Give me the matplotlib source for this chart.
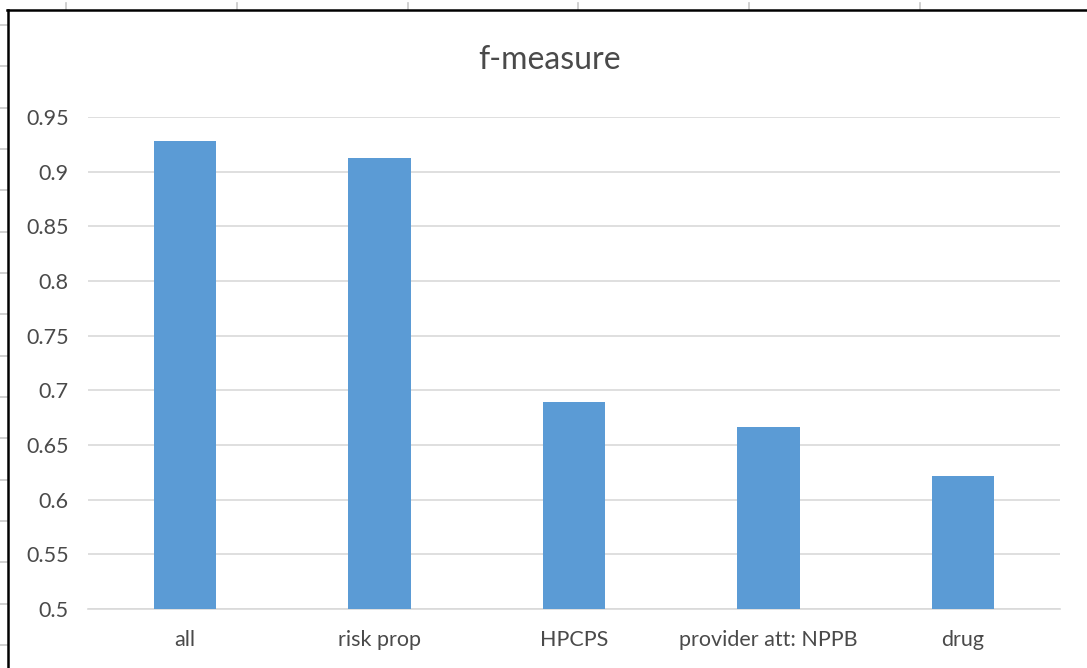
import matplotlib.pyplot as plt
from matplotlib.lines import Line2D

plt.rcParams['font.family'] = ['Lato', 'DejaVu Sans']

categories = ["all", "risk prop", "HPCPS", "provider att: NPPB", "drug"]
f_measure = [0.928, 0.9125, 0.689, 0.6665, 0.622]
y_ticks = [0.5, 0.55, 0.6, 0.65, 0.7, 0.75, 0.8, 0.85, 0.9, 0.95]
y_labels = ["0.5", "0.55", "0.6", "0.65", "0.7", "0.75", "0.8", "0.85", "0.9", "0.95"]

W, H = 1087, 668
fig = plt.figure(figsize=(W / 100, H / 100), dpi=100)
fig.patch.set_facecolor("white")

# plot area placed in pixel terms of the screenshot
ax = fig.add_axes([88 / W, 1 - 609 / H, (1060 - 88) / W, (609 - 117) / H])

x = range(len(categories))
ax.bar(x, f_measure, width=0.32, color="#5b9bd5", zorder=3)

ax.set_ylim(0.5, 0.95)
ax.set_xlim(-0.5, len(categories) - 0.5)
ax.set_yticks(y_ticks)
ax.set_yticklabels(y_labels)
ax.set_xticks(list(x))
ax.set_xticklabels(categories)
ax.grid(axis="y", color="#d9d9d9", linewidth=1.2, zorder=0)
ax.tick_params(axis="both", length=0, labelsize=15.5, colors="#4a4a4a")
ax.tick_params(axis="x", pad=15)
ax.tick_params(axis="y", pad=14)
for side in ["top", "right", "left"]:
    ax.spines[side].set_visible(False)
ax.spines["bottom"].set_color("#d9d9d9")
ax.spines["bottom"].set_linewidth(1.2)

fig.text(550 / W, 1 - 60 / H, "f-measure", ha="center", va="center",
         fontsize=23, color="#4a4a4a")

# chart frame and spreadsheet cell lines from the screenshot
def px_line(x0, y0, x1, y1, color, lw):
    fig.add_artist(Line2D([x0 / W, x1 / W], [1 - y0 / H, 1 - y1 / H],
                          transform=fig.transFigure, color=color, linewidth=lw))

for cx in [66, 237, 408, 578, 749, 920]:
    px_line(cx, 3, cx, 10, "#c8c8c8", 1.2)
for k in range(16):
    cy = 25 + 41.33 * k
    px_line(0, cy, 7, cy, "#c8c8c8", 1.2)
px_line(7, 10, W, 10, "black", 1.8)
px_line(7.5, 10, 7.5, H, "black", 1.8)

fig.savefig("out.png", dpi=100)
